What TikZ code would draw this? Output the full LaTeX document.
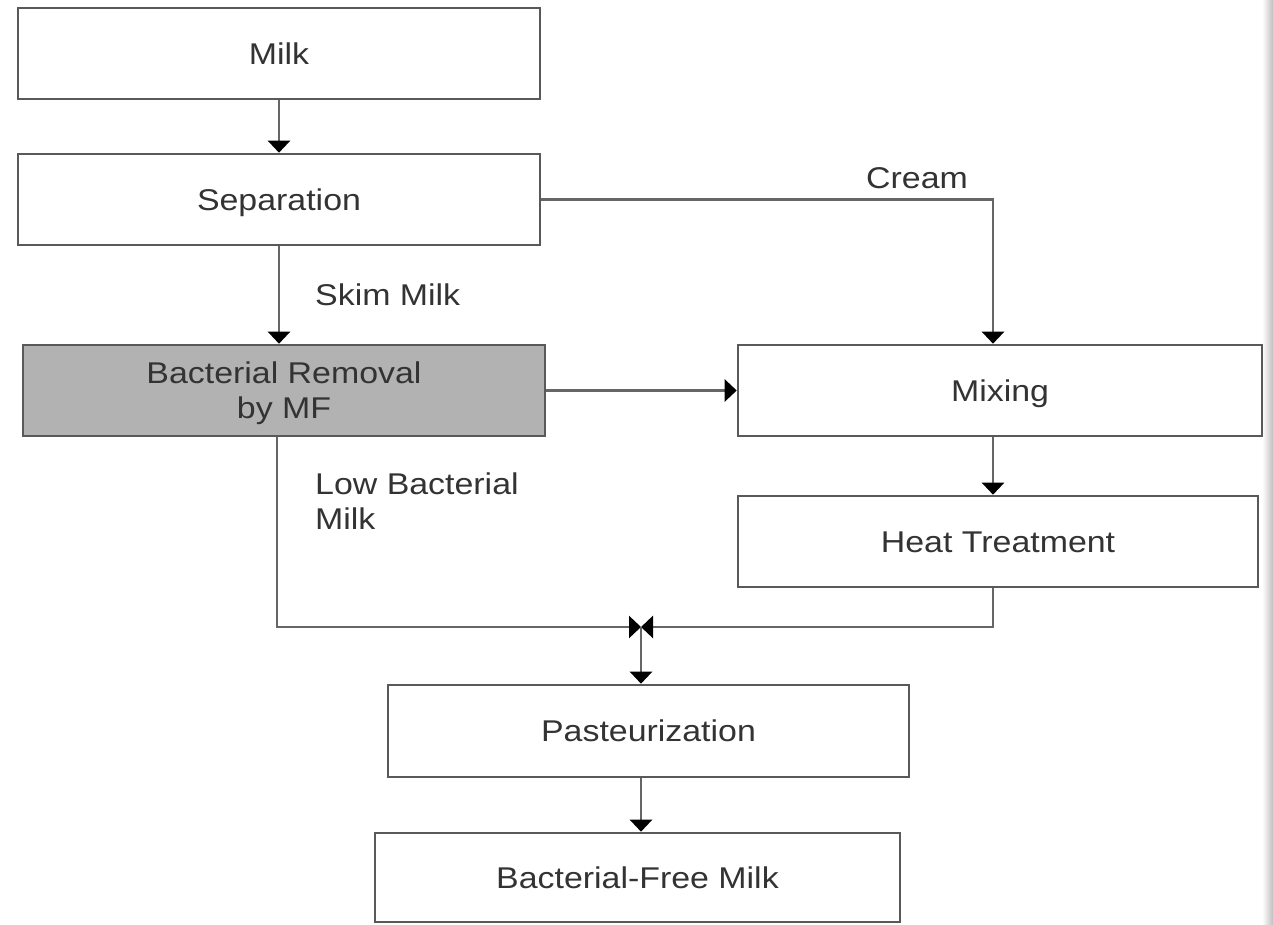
\documentclass[tikz,border=0pt]{standalone}
\usepackage{fontspec}
\setmainfont[FakeStretch=1.13]{Liberation Sans}
\usetikzlibrary{arrows.meta}

\begin{document}
\begin{tikzpicture}[line cap=butt,line join=miter,x=1pt,y=-1pt,>={Triangle[length=12pt,width=22pt,color=black]},
  stepbox/.style={draw=black!65,line width=2.6pt,minimum height=91pt,inner sep=0pt,text=black!80,font=\fontsize{30}{35}\selectfont,align=center},
  oneline/.style={text height=21.5pt,text depth=0pt},
  flow/.style={draw=black!60,line width=2.6pt},
  lbl/.style={text=black!80,font=\fontsize{30}{35}\selectfont,align=left,inner sep=0pt}]
\useasboundingbox (0,0) rectangle (1273,925);
\fill[white] (0,0) rectangle (1273,925);
\shade[left color=white,right color=black!25] (1262,0) rectangle (1273,925);
% boxes
\node[stepbox,oneline,minimum width=522pt] (milk) at (279,53.5) {Milk};
\node[stepbox,oneline,minimum width=522pt] (sep) at (279,199.5) {Separation};
\node[stepbox,text depth=0pt,minimum width=522pt,fill=black!30] (bact) at (284,390.5) {Bacterial Removal\\by MF};
\node[stepbox,oneline,minimum width=524pt] (mix) at (1000,390.5) {Mixing};
\node[stepbox,oneline,minimum width=520pt] (heat) at (998,541.5) {Heat Treatment};
\node[stepbox,oneline,minimum width=521pt,minimum height=92pt] (past) at (648.5,731) {Pasteurization};
\node[stepbox,oneline,minimum width=525pt,minimum height=89pt] (free) at (637.5,877.5) {Bacterial-Free Milk};
\coordinate (join) at (641,627);
% labels
\node[lbl,oneline,anchor=west] (skim) at (315,295) {Skim Milk};
\node[lbl,oneline,anchor=west] (cream) at (866,177.5) {Cream};
\node[lbl,anchor=north west] (low) at (315,473) {Low Bacterial\\Milk};
% flows
\draw[flow,->] (milk.south) -- (sep.north);
\draw[flow,->] (sep.south) -- (sep.south |- bact.north);
\draw[flow,->] (sep.east) -| ([xshift=-7pt]mix.north);
\draw[flow,->] (bact.east) -- (mix.west);
\draw[flow,->] ([xshift=-7pt]mix.south) -- ([xshift=-5pt]heat.north);
\draw[flow,->] ([xshift=-7pt]bact.south) |- (join);
\draw[flow,->] ([xshift=-5pt]heat.south) |- (join);
\draw[flow,->] (join) -- (join |- past.north);
\draw[flow,->] (join |- past.south) -- (join |- free.north);
\end{tikzpicture}
\end{document}
